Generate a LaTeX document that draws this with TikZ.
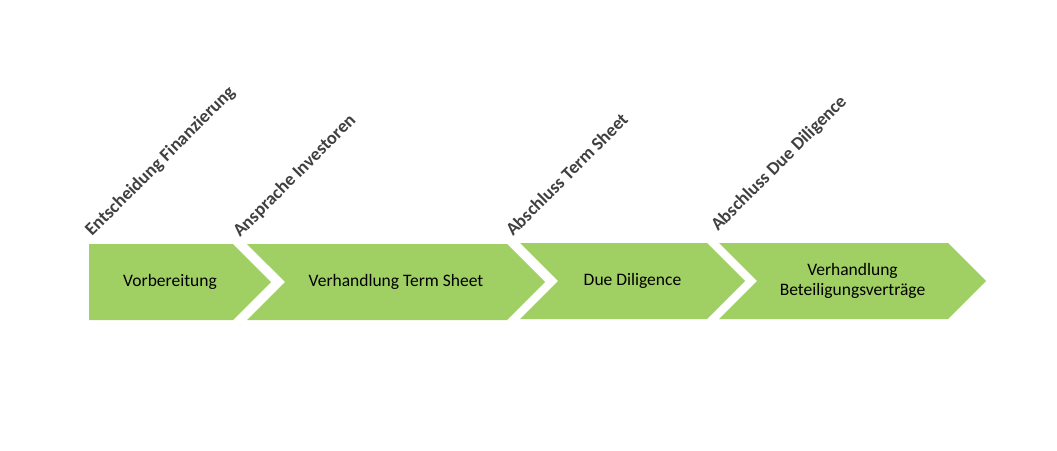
\documentclass[tikz,border=0pt]{standalone}
\usepackage{fontspec}
\setmainfont{Carlito}
\definecolor{PhaseGreen}{RGB}{160,207,100}
\definecolor{LabelGray} {RGB}{64,  64,  64}
\usetikzlibrary{
  shapes.symbols,
  positioning
}

\begin{document}
\begin{tikzpicture}[
  x=1pt, y=-1pt,
  phase base/.style={
    signal, signal pointer angle=90,
    fill=PhaseGreen,
    minimum height=76pt,
    inner sep=0pt, align=center,
    font=\fontsize{17.5}{20}\selectfont},
  first phase/.style={phase base,
    signal to=east},
  phase/.style={phase base,
    signal to=east,
    signal from=west},
  milestone/.style={
    rotate=45, anchor=base west,
    inner sep=0pt, text=LabelGray,
    font=\fontsize{18.3}{20}\selectfont\bfseries}
]
\useasboundingbox (0,0) rectangle (1057,450);

\node[first phase, minimum width=182pt]
  (prep) at (161,282)
  {\hspace*{18pt}Vorbereitung};
\node[phase, minimum width=298pt]
  (term) at (396,282)
  {Verhandlung Term Sheet};
\node[phase, minimum width=225pt]
  (dd) at (632.5,281)
  {Due Diligence};
\node[phase, minimum width=267pt]
  (contract) at (852.5,281)
  {Verhandlung\\Beteiligungsverträge};

\node[milestone] (decision) at (92,237)
  {Entscheidung Finanzierung};
\node[milestone] (approach) at (240,238)
  {Ansprache Investoren};
\node[milestone] (termdone) at (513,237)
  {Abschluss Term Sheet};
\node[milestone] (dddone) at (718,232)
  {Abschluss Due Diligence};

\end{tikzpicture}
\end{document}
